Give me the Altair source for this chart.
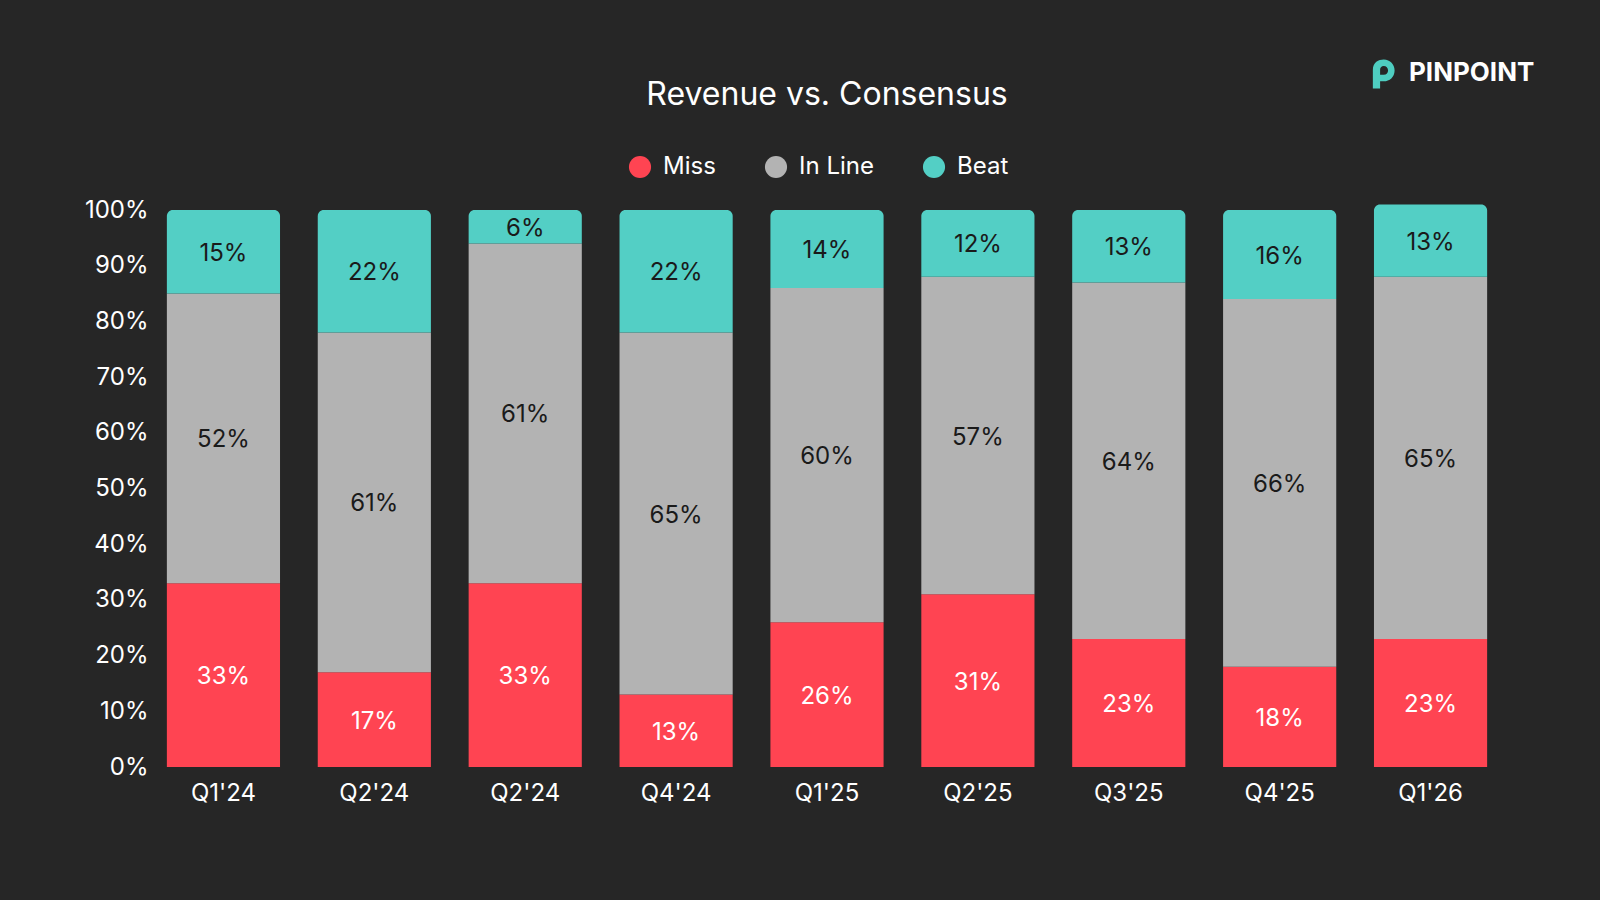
import json
import altair as alt
import pandas as pd

# Share of companies missing, in line with or beating revenue consensus
quarters = ["Q1'24", "Q2'24", "Q2'24", "Q4'24", "Q1'25", "Q2'25", "Q3'25", "Q4'25", "Q1'26"]
miss = [33, 17, 33, 13, 26, 31, 23, 18, 23]
in_line = [52, 61, 61, 65, 60, 57, 64, 66, 65]
beat = [15, 22, 6, 22, 14, 12, 13, 16, 13]

series_names = ["Miss", "In Line", "Beat"]
series_colors = ["#FF4452", "#B3B3B3", "#53CFC5"]

FONT = "Inter"
BG = "#262626"

rows = []
for i, q in enumerate(quarters):
    for k, (name, vals) in enumerate(zip(series_names, [miss, in_line, beat])):
        rows.append({"idx": i, "quarter": q, "series": name, "order": k, "value": vals[i]})
df = pd.DataFrame(rows)

label_expr = json.dumps(quarters) + "[datum.value]"

base = alt.Chart(df).transform_stack(
    stack="value",
    groupby=["idx"],
    as_=["y0", "y1"],
    sort=[alt.SortField("order", order="ascending")],
).transform_calculate(
    mid="(datum.y0 + datum.y1) / 2",
    label="datum.value + '%'",
)

x_enc = alt.X(
    "idx:O",
    title=None,
    scale=alt.Scale(paddingInner=0.25, paddingOuter=0.125),
    axis=alt.Axis(labelExpr=label_expr, labelAngle=0, labelPadding=14,
                  labelFontSize=24, labelColor="#FFFFFF", labelFont=FONT),
)
y_scale = alt.Scale(domain=[0, 100], nice=False, clamp=False)
color_enc = alt.Color(
    "series:N",
    scale=alt.Scale(domain=series_names, range=series_colors),
    legend=alt.Legend(
        title=None, orient="none", direction="horizontal",
        legendX=480, legendY=-55, symbolType="circle", symbolSize=490,
        symbolStrokeWidth=0, symbolOpacity=1, labelFontSize=24, labelColor="#FFFFFF",
        labelFont=FONT, labelOffset=11, columnPadding=48, padding=0,
    ),
)

lower = base.transform_filter(alt.datum.series != "Beat").mark_bar().encode(
    x=x_enc,
    y=alt.Y("y0:Q", scale=y_scale, title=None,
            axis=alt.Axis(values=list(range(0, 101, 10)), labelExpr="datum.value + '%'",
                          labelFontSize=24, labelColor="#FFFFFF", labelFont=FONT,
                          labelPadding=0)),
    y2="y1:Q",
    color=color_enc,
)

upper = base.transform_filter(alt.datum.series == "Beat").mark_bar(
    cornerRadiusTopLeft=6, cornerRadiusTopRight=6
).encode(
    x=x_enc,
    y=alt.Y("y0:Q", scale=y_scale),
    y2="y1:Q",
    color=color_enc,
)

labels = base.mark_text(fontSize=24, font=FONT, baseline="middle", align="center", dy=2).encode(
    x=x_enc,
    y=alt.Y("mid:Q", scale=y_scale),
    text="label:N",
    color=alt.condition(alt.datum.series == "Miss", alt.value("#FFFFFF"), alt.value("#1A1A1A")),
)

brand = alt.Chart(pd.DataFrame({"name": ["PINPOINT"]}))
brand_text = brand.mark_text(
    font=FONT, fontSize=26, fontWeight="bold", color="#FFFFFF", align="left", baseline="middle"
).encode(x=alt.value(1261), y=alt.value(-137), text="name:N")

p_shape = ("M -0.7 1 L -0.7 -0.3 C -0.7 -0.8 -0.3 -1 0.05 -1 C 0.5 -1 0.8 -0.65 0.8 -0.25 "
           "C 0.8 0.2 0.45 0.5 0.05 0.5 L -0.2 0.5 L -0.2 1 Z "
           "M -0.2 0.05 L 0.05 0.05 C 0.25 0.05 0.35 -0.1 0.35 -0.25 "
           "C 0.35 -0.42 0.22 -0.55 0.05 -0.55 C -0.12 -0.55 -0.2 -0.42 -0.2 -0.3 Z")
brand_icon = brand.mark_point(
    shape=p_shape, filled=True, color="#4ECDC0", opacity=1, size=841, strokeWidth=0
).encode(x=alt.value(1235), y=alt.value(-136))

chart = alt.layer(lower, upper, labels, brand_text, brand_icon).properties(
    width=1358,
    height=557,
    title=alt.TitleParams("Revenue vs. Consensus", anchor="middle", fontSize=32,
                          font=FONT, fontWeight="normal", color="#FFFFFF", offset=-52),
    background=BG,
    padding={"left": 148, "top": 210, "right": 94, "bottom": 133},
    autosize=alt.AutoSizeParams(type="none"),
).configure_view(stroke=None).configure_axis(
    grid=False, domain=False, ticks=False
).resolve_scale(color="shared")

chart.save("out.html", embed_options={"renderer": "svg", "actions": False})
